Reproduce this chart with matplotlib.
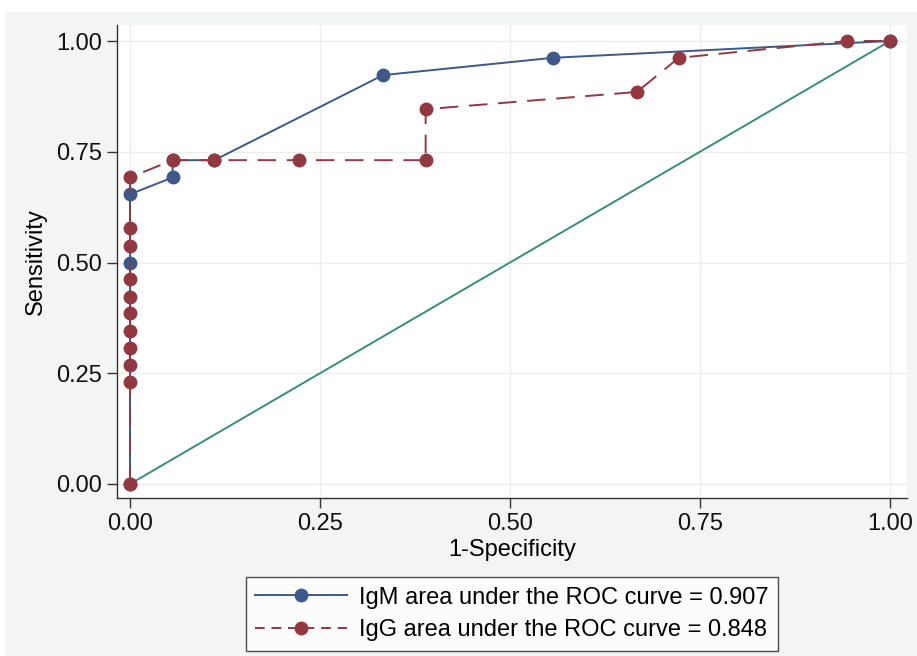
import matplotlib.pyplot as plt
from matplotlib.patches import Rectangle
from matplotlib.lines import Line2D

plt.rcParams['font.family'] = ['Liberation Sans', 'DejaVu Sans']

# ROC points
igm_fpr = [0.0, 0.0, 0.0, 0.056, 0.056, 0.111, 0.333, 0.556, 1.0]
igm_tpr = [0.0, 0.500, 0.654, 0.692, 0.731, 0.731, 0.923, 0.962, 1.0]

igg_fpr = [0.0, 0.0, 0.0, 0.0, 0.0, 0.0, 0.0, 0.0, 0.0, 0.0, 0.0,
           0.056, 0.111, 0.222, 0.389, 0.389, 0.667, 0.722, 0.944, 1.0]
igg_tpr = [0.0, 0.231, 0.269, 0.308, 0.346, 0.385, 0.423, 0.462, 0.538, 0.577, 0.692,
           0.731, 0.731, 0.731, 0.731, 0.846, 0.885, 0.962, 1.0, 1.0]

ref_x = [0.0, 1.0]
ref_y = [0.0, 1.0]

ticks = [0.0, 0.25, 0.5, 0.75, 1.0]
tick_labels = ["0.00", "0.25", "0.50", "0.75", "1.00"]
legend_labels = ["IgM area under the ROC curve = 0.907",
                 "IgG area under the ROC curve = 0.848"]

blue = "#3d5889"
red = "#913840"
green = "#3b8c78"
bg = "#f3f5f5"

W, H = 917, 656
fig = plt.figure(figsize=(W / 100, H / 100), dpi=100, facecolor="white")
fig.patches.append(Rectangle((5 / W, 0), 1 - 5 / W, (H - 12) / H,
                             transform=fig.transFigure, facecolor=bg,
                             edgecolor="none", zorder=-10))

ax = fig.add_axes([117 / W, 1 - 498 / H, (907 - 117) / W, (498 - 25) / H])
ax.set_facecolor("white")

ax.plot(ref_x, ref_y, color=green, lw=1.4, zorder=2)
ax.plot(igm_fpr, igm_tpr, color=blue, lw=1.4, marker="o", ms=10,
        markeredgewidth=0, zorder=3)
ax.plot(igg_fpr, igg_tpr, color=red, lw=1.4, dashes=(9.5, 5.5), marker="o", ms=10,
        markeredgewidth=0, zorder=4)

# axis ranges so that 0 and 1 land where they do in the picture
ax.set_xlim(-13 / 759, 1 + 17 / 759)
ax.set_ylim(-14 / 443, 1 + 16 / 443)

ax.set_xticks(ticks)
ax.set_xticklabels(tick_labels)
ax.set_yticks(ticks)
ax.set_yticklabels(tick_labels)
ax.tick_params(direction="out", length=7, width=1, color="#333333",
               labelsize=17, pad=4, labelcolor="#111111")
ax.grid(True, color="#eceeee", lw=1)
ax.set_axisbelow(True)

for side in ["top", "right"]:
    ax.spines[side].set_visible(False)
for side in ["left", "bottom"]:
    ax.spines[side].set_color("#333333")
    ax.spines[side].set_linewidth(1)

ax.set_xlabel("1-Specificity", fontsize=17, labelpad=3)
ax.set_ylabel("Sensitivity", fontsize=17, labelpad=6)

handles = [
    Line2D([], [], color=blue, lw=1.4, marker="o", ms=10, markeredgewidth=0),
    Line2D([], [], color=red, lw=1.4, dashes=(5, 3.5), marker="o", ms=10,
           markeredgewidth=0),
]
leg = fig.legend(handles, legend_labels, loc="center",
                 bbox_to_anchor=(512 / W, 1 - 614 / H), fontsize=17,
                 frameon=True, fancybox=False, handlelength=3.9,
                 handletextpad=0.5, borderpad=0.4, labelspacing=0.45,
                 borderaxespad=0)
leg.get_frame().set_edgecolor("#222222")
leg.get_frame().set_linewidth(1)
leg.get_frame().set_facecolor("white")

fig.savefig("out.png", dpi=100, facecolor=fig.get_facecolor())
